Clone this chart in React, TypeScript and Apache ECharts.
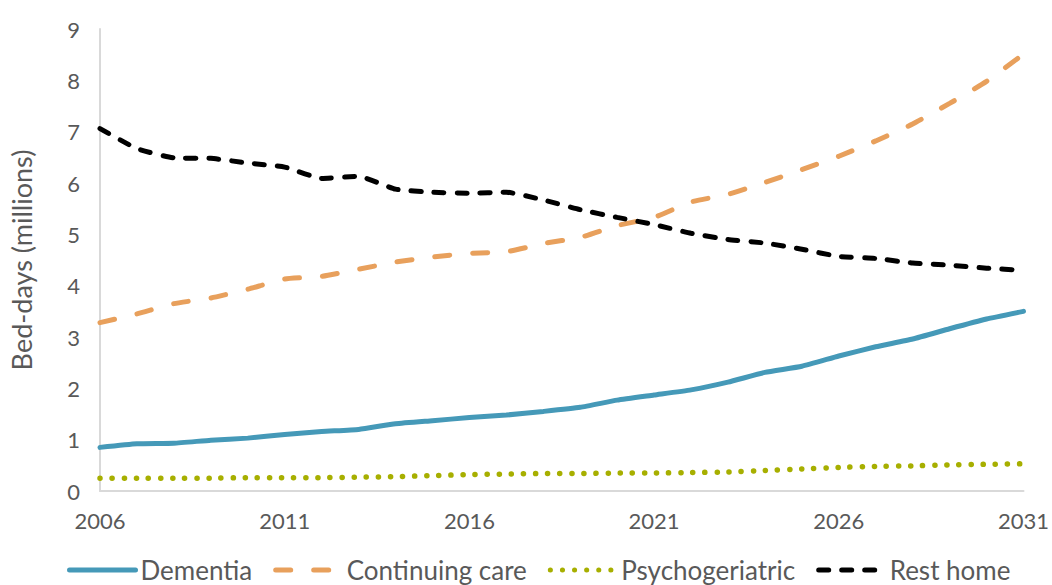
import React, { useEffect, useRef } from "react";
import * as echarts from "echarts";

const years = ["2006","2007","2008","2009","2010","2011","2012","2013","2014","2015","2016","2017","2018","2019","2020","2021","2022","2023","2024","2025","2026","2027","2028","2029","2030","2031"];
const dementia = [0.85,0.92,0.93,0.99,1.03,1.10,1.16,1.20,1.31,1.37,1.43,1.48,1.55,1.63,1.77,1.87,1.97,2.12,2.31,2.43,2.63,2.81,2.96,3.16,3.35,3.50];
const continuingCare = [3.28,3.45,3.65,3.76,3.93,4.13,4.18,4.32,4.46,4.56,4.63,4.66,4.82,4.94,5.17,5.33,5.63,5.78,6.01,6.26,6.52,6.82,7.15,7.55,7.98,8.51];
const psychogeriatric = [0.25,0.25,0.25,0.25,0.26,0.26,0.26,0.27,0.28,0.30,0.32,0.33,0.34,0.34,0.35,0.35,0.36,0.37,0.40,0.43,0.46,0.48,0.49,0.51,0.52,0.53];
const restHome = [7.06,6.67,6.49,6.48,6.39,6.31,6.09,6.13,5.88,5.82,5.80,5.82,5.67,5.48,5.33,5.19,5.02,4.90,4.83,4.71,4.57,4.53,4.44,4.40,4.34,4.30];
const yTicks = [0, 9, 1];

const FONT = "Lato";
const GRAY = "#595959";

export default function App() {
  const ref = useRef<HTMLDivElement>(null);
  useEffect(() => {
    document.body.style.margin = "0";
    const chart = echarts.init(ref.current!, null, { renderer: "svg" });
    const mk = (name: string, data: number[], color: string, type: any, width = 5) => ({
      name,
      type: "line",
      data,
      showSymbol: false,
      symbol: "none",
      smooth: 0.15,
      lineStyle: { color, width, type, cap: "round" },
      itemStyle: { color },
    });
    chart.setOption({
      animation: false,
      backgroundColor: "#ffffff",
      textStyle: { fontFamily: FONT },
      grid: { left: 97, right: 23, top: 29, bottom: 94, containLabel: false },
      xAxis: {
        type: "category",
        data: years,
        boundaryGap: false,
        axisLine: { lineStyle: { color: "#d9d9d9", width: 2 } },
        axisTick: { show: false },
        axisLabel: {
          interval: 4,
          color: GRAY,
          fontSize: 22,
          fontFamily: FONT,
          margin: 18,
        },
        splitLine: { show: false },
      },
      yAxis: {
        type: "value",
        min: yTicks[0],
        max: yTicks[1],
        interval: yTicks[2],
        name: "Bed-days (millions)",
        nameLocation: "middle",
        nameGap: 65,
        nameRotate: 90,
        nameTextStyle: { color: GRAY, fontSize: 27, fontFamily: FONT },
        axisLine: { show: true, lineStyle: { color: "#d9d9d9", width: 2 } },
        axisTick: { show: false },
        axisLabel: { color: GRAY, fontSize: 22, fontFamily: FONT, margin: 20 },
        splitLine: { show: false },
      },
      legend: {
        top: 552,
        left: 62,
        itemWidth: 66,
        itemHeight: 14,
        itemGap: 21,
        itemStyle: { opacity: 0 },
        lineStyle: { width: 5 },
        textStyle: { color: GRAY, fontSize: 26, fontFamily: FONT, padding: [0, 0, 0, 0] },
        data: ["Dementia", "Continuing care", "Psychogeriatric", "Rest home"],
      },
      series: [
        mk("Dementia", dementia, "#4599B8", "solid"),
        mk("Continuing care", continuingCare, "#E8A05C", [15, 23]),
        mk("Psychogeriatric", psychogeriatric, "#A7AF00", [0.1, 12], 5.5),
        mk("Rest home", restHome, "#000000", [10, 13]),
      ],
    });
    return () => chart.dispose();
  }, []);
  return <div ref={ref} style={{ width: 1052, height: 585 }} />;
}
